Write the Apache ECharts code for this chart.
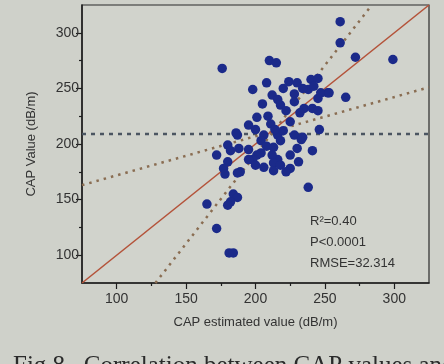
<!DOCTYPE html>
<html>
<head>
<meta charset="utf-8">
<script src="https://cdn.jsdelivr.net/npm/echarts@6/dist/echarts.min.js"></script>
<style>
  html, body { margin: 0; padding: 0; background: #cfd1ca; }
  #chart { width: 444px; height: 364px; }
</style>
</head>
<body>
<div id="chart"></div>
<script>
// Estimated CAP (x) vs measured CAP (y), dB/m
const capEstimated = [
  261, 261, 272, 299, 176, 210, 215,
  198, 208, 224, 240, 245, 238, 252, 245, 234, 220, 212, 216, 265, 247, 253, 230, 228, 242,
  218, 235, 241, 209, 201, 222, 228, 205, 232, 245,
  195, 187, 200, 206, 216, 220, 228, 233, 218, 246, 234, 211, 225, 204, 186, 214,
  180, 188, 172, 201, 213, 204, 198, 216, 225, 241, 208, 182, 195, 230, 212,
  180, 177, 189, 195, 206, 213, 225, 222, 213, 187, 178, 200, 218, 231,
  238, 184, 187, 182, 165, 180, 172, 181, 184
];
const capMeasured = [
  310, 291, 278, 276, 268, 275, 273,
  249, 255, 256, 258, 259, 249, 246, 241, 250, 250, 244, 240, 242, 246, 246, 255, 245, 252,
  235, 232, 232, 225, 224, 230, 238, 236, 228, 230,
  217, 208, 213, 208, 208, 212, 208, 204, 203, 213, 206, 218, 220, 203, 210, 213,
  199, 196, 190, 190, 197, 192, 186, 186, 190, 194, 198, 194, 195, 196, 190,
  184, 178, 175, 186, 179, 183, 178, 175, 176, 174, 173, 181, 181, 184,
  161, 155, 152, 148, 146, 145, 124, 102, 102
];

// Axis range and tick values
const axisMin = 75;
const axisMax = 325;
const majorTicks = [100, 150, 200, 250, 300];
const minorTicks = [125, 175, 225, 275];

// Reference lines: identity, mean of measured CAP and the two dotted fits
const meanMeasured = 209;
const fitSteep = { slope: 1.603, intercept: -130 };
const fitFlat = { slope: 0.352, intercept: 136.6 };

// Summary statistics
const statLines = ['R\u00B2=0.40', 'P<0.0001', 'RMSE=32.314'];
const caption = 'Fig.8   Correlation between CAP values and';

const points = capEstimated.map((x, i) => [x, capMeasured[i]]);

function clipLine(fit) {
  // endpoints of y = slope*x + intercept inside the square axis range
  let x0 = axisMin, x1 = axisMax;
  const yAt = x => fit.slope * x + fit.intercept;
  const xAt = y => (y - fit.intercept) / fit.slope;
  if (yAt(x0) < axisMin) x0 = xAt(axisMin);
  if (yAt(x1) > axisMax) x1 = xAt(axisMax);
  return [[x0, yAt(x0)], [x1, yAt(x1)]];
}

const chart = echarts.init(document.getElementById('chart'), null, { renderer: 'canvas' });

const baseFont = 'Liberation Sans, Arial, sans-serif';

function valueAxis(extra) {
  return Object.assign({
    type: 'value',
    min: axisMin,
    max: axisMax,
    interval: 25,
    splitLine: { show: false }
  }, extra);
}

chart.setOption({
  backgroundColor: '#cfd1ca',
  animation: false,
  grid: {
    left: 82, right: 15, top: 5, bottom: 81,
    show: true,
    borderColor: '#2a2a2a',
    borderWidth: 1.2,
    backgroundColor: '#d1d3cc'
  },
  xAxis: [
    valueAxis({
      name: 'CAP estimated value (dB/m)',
      nameLocation: 'middle',
      nameGap: 33,
      nameTextStyle: { fontFamily: baseFont, fontSize: 13, color: '#333' },
      axisLine: { lineStyle: { color: '#1e1e1e', width: 1.5 } },
      axisTick: { customValues: majorTicks, length: 6, lineStyle: { color: '#1e1e1e', width: 1.2 } },
      axisLabel: { customValues: majorTicks, fontFamily: baseFont, fontSize: 14, color: '#333', margin: 9 }
    }),
    valueAxis({
      position: 'bottom',
      axisLine: { show: false },
      axisTick: { customValues: minorTicks, length: 3, lineStyle: { color: '#1e1e1e', width: 1.2 } },
      axisLabel: { show: false }
    })
  ],
  yAxis: [
    valueAxis({
      name: 'CAP Value (dB/m)',
      nameLocation: 'middle',
      nameGap: 44,
      nameTextStyle: { fontFamily: baseFont, fontSize: 13, color: '#333' },
      axisLine: { lineStyle: { color: '#1e1e1e', width: 1.5 } },
      axisTick: { customValues: majorTicks, length: 6, lineStyle: { color: '#1e1e1e', width: 1.2 } },
      axisLabel: { customValues: majorTicks, fontFamily: baseFont, fontSize: 14, color: '#333', margin: 3 }
    }),
    valueAxis({
      position: 'left',
      axisLine: { show: false },
      axisTick: { customValues: minorTicks, length: 3, lineStyle: { color: '#1e1e1e', width: 1.2 } },
      axisLabel: { show: false }
    })
  ],
  series: [
    {
      type: 'line',
      data: [[axisMin, meanMeasured], [axisMax, meanMeasured]],
      symbol: 'none',
      lineStyle: { color: '#4b5561', width: 2.5, type: [4, 5] },
      z: 2
    },
    {
      type: 'line',
      data: clipLine(fitFlat),
      symbol: 'none',
      lineStyle: { color: '#8a6d52', width: 2.5, type: [2.5, 5] },
      z: 2
    },
    {
      type: 'line',
      data: clipLine(fitSteep),
      symbol: 'none',
      lineStyle: { color: '#8a6d52', width: 2.5, type: [2.5, 5] },
      z: 2
    },
    {
      type: 'line',
      data: [[axisMin, axisMin], [axisMax, axisMax]],
      symbol: 'none',
      lineStyle: { color: '#b4533a', width: 1.6 },
      z: 3
    },
    {
      type: 'scatter',
      data: points,
      symbolSize: 9.5,
      itemStyle: { color: '#1b2a8a', opacity: 1 },
      z: 4
    }
  ],
  graphic: [
    {
      type: 'text',
      left: 310,
      top: 211,
      style: {
        text: statLines.join('\n'),
        font: '13px ' + baseFont,
        fill: '#333',
        lineHeight: 21
      }
    },
    {
      type: 'text',
      left: 13,
      top: 354,
      style: {
        text: caption,
        font: '25px Liberation Serif, Times New Roman, serif',
        fill: '#2a2a2a'
      }
    }
  ]
});
</script>
</body>
</html>
